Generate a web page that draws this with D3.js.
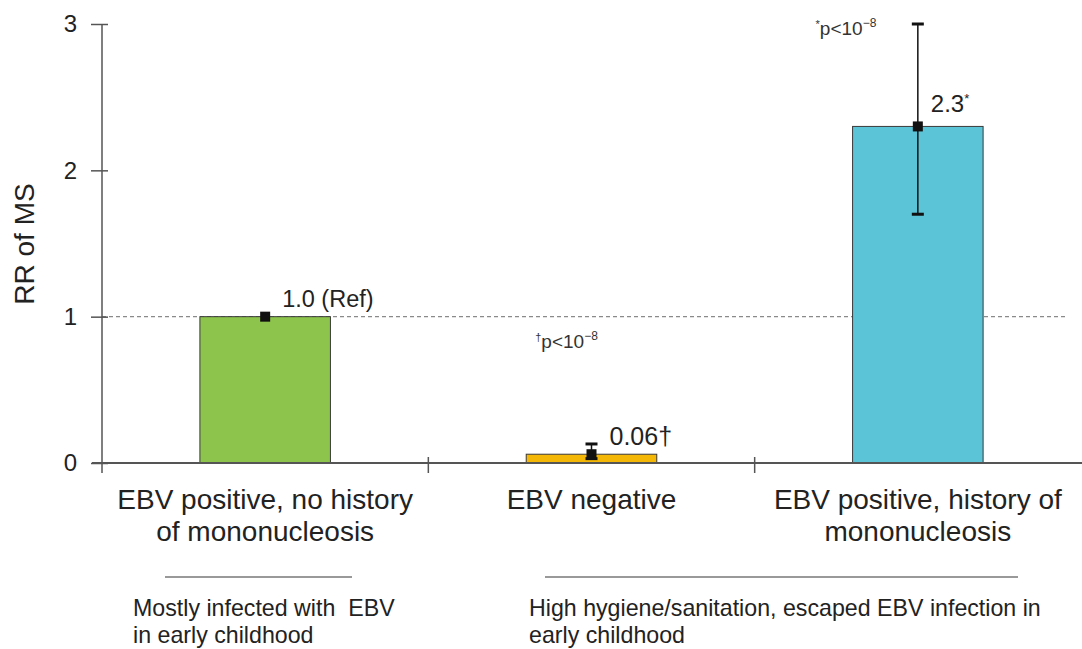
<!DOCTYPE html>
<html>
<head>
<meta charset="utf-8">
<script src="https://cdn.jsdelivr.net/npm/d3@7"></script>
<style>
  html, body { margin: 0; padding: 0; background: #fff; }
  svg { display: block; font-family: "Liberation Sans", Arial, sans-serif; }
</style>
</head>
<body>
<svg id="chart" width="1082" height="649"></svg>
<script>
// Relative risk of MS by EBV status
const categories = ["EBV positive, no history of mononucleosis", "EBV negative", "EBV positive, history of mononucleosis"];
const categoryLines = [["EBV positive, no history", "of mononucleosis"], ["EBV negative"], ["EBV positive, history of", "mononucleosis"]];
const rr = [1.0, 0.06, 2.3];
const ciLow = [null, 0.03, 1.7];
const ciHigh = [null, 0.13, 3.0];
const valueLabels = ["1.0 (Ref)", "0.06", "2.3"];
const valueMarks = ["", "†", "*"];
const barColors = ["#8dc44b", "#f4b705", "#5bc4d6"];
const yTicks = [0, 1, 2, 3];
const refValue = 1;
const groupTexts = [["Mostly infected with  EBV", "in early childhood"], ["High hygiene/sanitation, escaped EBV infection in", "early childhood"]];

const svg = d3.select("#chart");
const plotLeft = 102, plotRight = 1081, plotTop = 24, plotBottom = 463;

const x = d3.scaleBand().domain(categories).range([plotLeft, plotRight]).paddingInner(0.6).paddingOuter(0.3);
const y = d3.scaleLinear().domain([0, 3]).range([plotBottom, plotTop]);

// reference line at RR = 1
svg.append("line")
  .attr("x1", plotLeft).attr("x2", 1068)
  .attr("y1", y(refValue)).attr("y2", y(refValue))
  .attr("stroke", "#8a8a8a").attr("stroke-width", 1.2).attr("stroke-dasharray", "4,3");

// bars
svg.selectAll("rect.bar").data(categories).join("rect")
  .attr("class", "bar")
  .attr("x", d => x(d))
  .attr("width", x.bandwidth())
  .attr("y", (d, i) => y(rr[i]))
  .attr("height", (d, i) => y(0) - y(rr[i]))
  .attr("fill", (d, i) => barColors[i])
  .attr("stroke", "#3a3a3a").attr("stroke-width", 1);

// y axis
const yAxis = d3.axisLeft(y).tickValues(yTicks).tickFormat(d3.format("d")).tickSizeInner(11).tickSizeOuter(0).tickPadding(14);
const gy = svg.append("g").attr("transform", `translate(${plotLeft},0)`).call(yAxis);
gy.select(".domain").remove();
gy.selectAll(".tick line").attr("x2", -11).attr("x1", 6).attr("stroke", "#555").attr("stroke-width", 1.5);
gy.selectAll(".tick text").attr("font-size", 24).attr("fill", "#222").attr("font-family", "Liberation Sans, Arial, sans-serif");
svg.append("line").attr("x1", plotLeft).attr("x2", plotLeft).attr("y1", y(3)).attr("y2", plotBottom + 10)
  .attr("stroke", "#555").attr("stroke-width", 1.5);

// x axis line with category divider ticks
svg.append("line").attr("x1", 92).attr("x2", 1082).attr("y1", plotBottom).attr("y2", plotBottom)
  .attr("stroke", "#555").attr("stroke-width", 1.8);
svg.selectAll("line.divider").data(categories.slice(1)).join("line")
  .attr("class", "divider")
  .attr("x1", d => x(d) - x.step() * x.paddingInner() / 2)
  .attr("x2", d => x(d) - x.step() * x.paddingInner() / 2)
  .attr("y1", plotBottom - 6).attr("y2", plotBottom + 10)
  .attr("stroke", "#555").attr("stroke-width", 1.5);

// category labels
categories.forEach((c, i) => {
  const t = svg.append("text")
    .attr("x", x(c) + x.bandwidth() / 2).attr("y", 509)
    .attr("text-anchor", "middle").attr("font-size", 28).attr("fill", "#222");
  categoryLines[i].forEach((line, k) => {
    t.append("tspan").attr("x", x(c) + x.bandwidth() / 2).attr("dy", k === 0 ? 0 : 32).text(line);
  });
});

// y axis title
svg.append("text")
  .attr("transform", `translate(34,244) rotate(-90)`)
  .attr("text-anchor", "middle").attr("font-size", 28).attr("fill", "#222")
  .text("RR of MS");

// error bars
const cx = i => x(categories[i]) + x.bandwidth() / 2;
rr.forEach((v, i) => {
  if (ciLow[i] == null) return;
  const g = svg.append("g").attr("stroke", "#111").attr("stroke-width", 1.5);
  g.append("line").attr("x1", cx(i)).attr("x2", cx(i)).attr("y1", y(ciLow[i])).attr("y2", y(ciHigh[i]));
  [ciLow[i], ciHigh[i]].forEach(b => {
    g.append("line").attr("x1", cx(i) - 6).attr("x2", cx(i) + 6).attr("y1", y(b)).attr("y2", y(b)).attr("stroke-width", 3);
  });
});

// point estimates
svg.selectAll("rect.pt").data(rr).join("rect")
  .attr("class", "pt")
  .attr("x", (d, i) => cx(i) - 5).attr("y", d => y(d) - 5)
  .attr("width", 10).attr("height", 10).attr("fill", "#111");

// value labels
const labelOffsets = [[17, -10], [18, -9], [13, -14]];
const labelSizes = [23.5, 25, 24];
rr.forEach((v, i) => {
  const t = svg.append("text")
    .attr("x", cx(i) + labelOffsets[i][0]).attr("y", y(v) + labelOffsets[i][1])
    .attr("font-size", labelSizes[i]).attr("fill", "#222");
  t.append("tspan").text(valueLabels[i]);
  if (valueMarks[i] === "†") t.append("tspan").text("†");
  else if (valueMarks[i]) t.append("tspan").attr("font-size", 13).attr("dy", -9).text(valueMarks[i]);
});

// significance notes
function pNote(xPos, yPos, mark) {
  const t = svg.append("text").attr("x", xPos).attr("y", yPos).attr("font-size", 19).attr("fill", "#333");
  t.append("tspan").attr("font-size", 11).attr("dy", -7).text(mark);
  t.append("tspan").attr("dy", 7).text("p<10");
  t.append("tspan").attr("font-size", 12).attr("dy", -8).text("−8");
}
pNote(x(categories[1]) + 9, y(0.8) + 2, "†");
pNote(x(categories[2]) - 37, y(2.93) + 1, "*");

// group brackets and notes
const groups = [
  { x1: 165, x2: 352, tx: 133 },
  { x1: 545, x2: 1018, tx: 529 }
];
groups.forEach((g, i) => {
  svg.append("line").attr("x1", g.x1).attr("x2", g.x2).attr("y1", 577).attr("y2", 577)
    .attr("stroke", "#999").attr("stroke-width", 2);
  const t = svg.append("text").attr("x", g.tx).attr("y", 616).attr("font-size", 23.2).attr("fill", "#222")
    .style("white-space", "pre");
  groupTexts[i].forEach((line, k) => {
    t.append("tspan").attr("x", g.tx).attr("dy", k === 0 ? 0 : 27).text(line);
  });
});
</script>
</body>
</html>
